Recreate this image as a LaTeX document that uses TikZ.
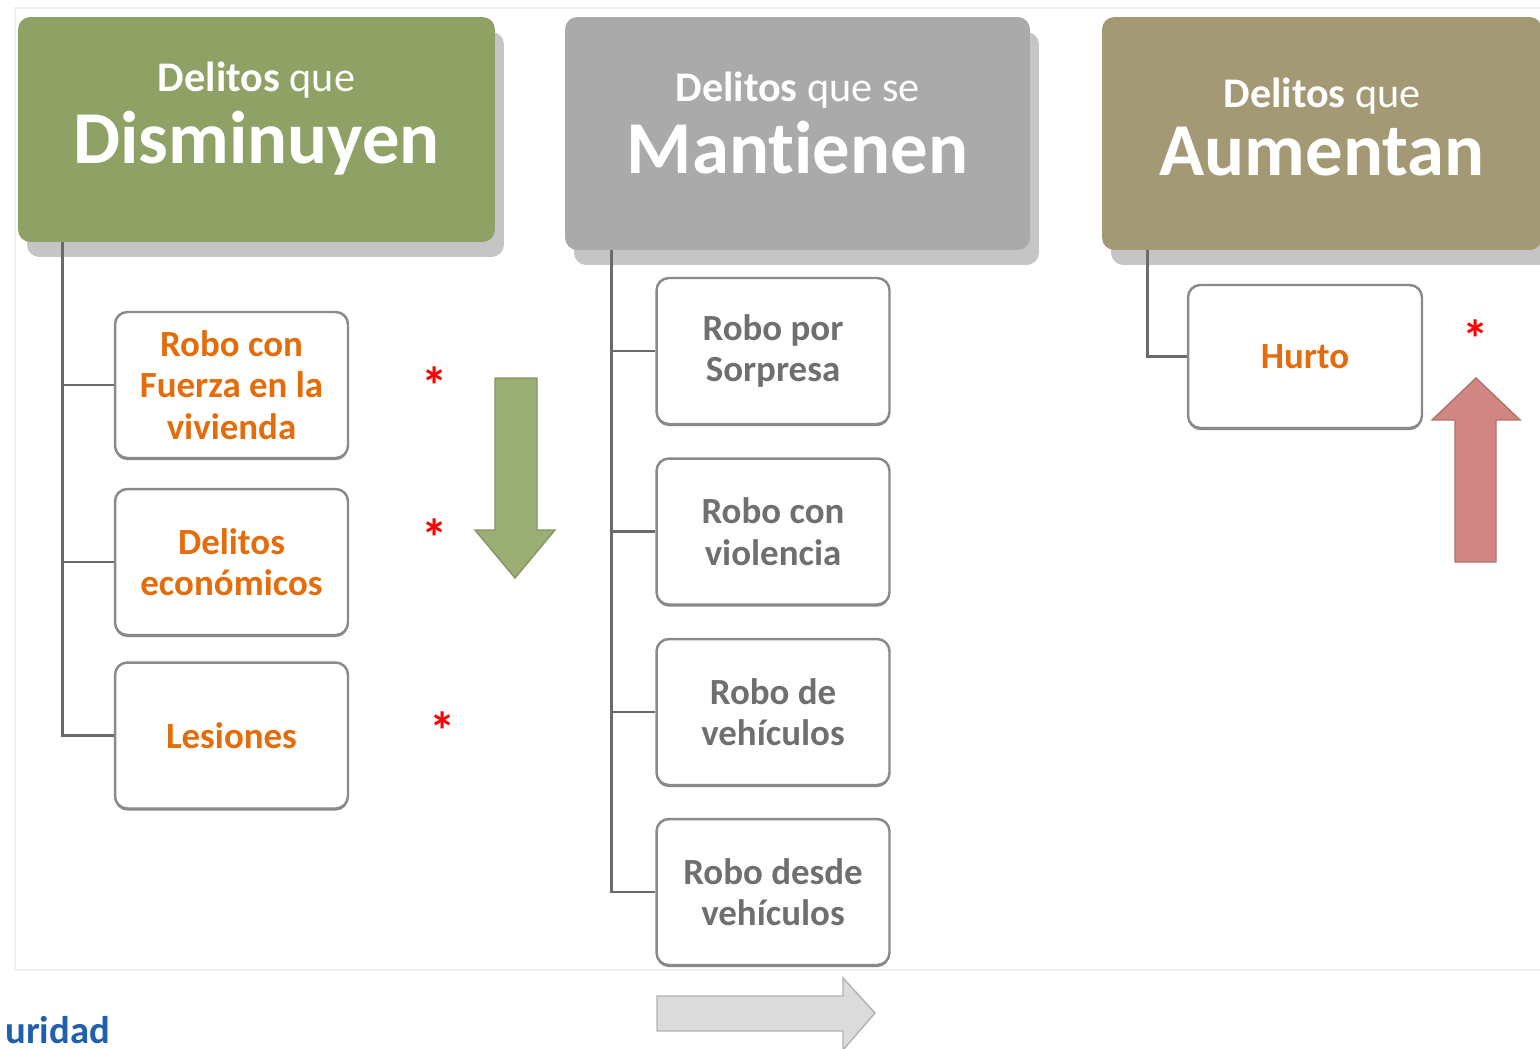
\documentclass[tikz,border=0pt]{standalone}
\usepackage{fontspec}
\setmainfont{Carlito}[Ligatures=NoCommon]
\usetikzlibrary{shadows}
\definecolor{verde}{HTML}{8FA164}
\definecolor{plomo}{HTML}{AAAAAA}
\definecolor{caqui}{HTML}{A39A75}
\definecolor{naranja}{HTML}{E46C0A}
\definecolor{grisT}{HTML}{6F6F6F}
\definecolor{borde}{HTML}{8A8A8A}
\definecolor{linea}{HTML}{6A6A6A}
\definecolor{flechaV}{HTML}{9BAE74}
\definecolor{flechaR}{HTML}{D08683}
\definecolor{azul}{HTML}{1F5FAD}
\begin{document}
\begin{tikzpicture}[x=0.02cm, y=-0.02cm,
  head/.style={rounded corners=7pt, text=white, align=center,
    drop shadow={shadow xshift=0.18cm, shadow yshift=-0.3cm, fill=gray!75, opacity=0.6}},
  caja/.style={draw=borde, line width=1.4pt, rounded corners=7pt, fill=white, align=center,
    minimum width=4.66cm, minimum height=2.92cm, font=\fontsize{21}{23.6}\selectfont\bfseries,
    drop shadow={shadow xshift=0pt, shadow yshift=-1.2pt, fill=linea, opacity=0.8}},
  rama/.style={draw=linea, line width=1.4pt},
  star/.style={text=red, font=\fontsize{30}{30}\selectfont\bfseries}]
\useasboundingbox (0,0) rectangle (1540,1048);
\draw[gray!12, line width=0.8pt] (15,8) rectangle (1560,970);

% cabeceras
\node[head, fill=verde, minimum width=9.54cm, minimum height=4.5cm, text depth=19pt] (dis) at (256.5,129.5)
  {{\fontsize{24}{28}\selectfont\textbf{Delitos} que}\\[6pt] \fontsize{42.5}{42}\selectfont\bfseries Disminuyen};
\node[head, fill=plomo, minimum width=9.3cm, minimum height=4.66cm, text depth=12.5pt] (man) at (797.5,133.5)
  {{\fontsize{24}{28}\selectfont\textbf{Delitos} que se}\\[6pt] \fontsize{42.5}{42}\selectfont\bfseries Mantienen};
\node[head, fill=caqui, minimum width=8.8cm, minimum height=4.66cm, text depth=8pt] (aum) at (1322,133.5)
  {{\fontsize{24}{28}\selectfont\textbf{Delitos} que}\\[6pt] \fontsize{42.5}{42}\selectfont\bfseries Aumentan};

% disminuyen
\node[caja, text=naranja] (rfv) at (231.5,385) {Robo con\\Fuerza en la\\vivienda};
\node[caja, text=naranja] (dec) at (231.5,562) {Delitos\\económicos};
\node[caja, text=naranja] (les) at (231.5,735.5) {Lesiones};
\draw[rama] ([xshift=0.9cm]dis.south west) |- (rfv.west);
\draw[rama] ([xshift=0.9cm]dis.south west) |- (dec.west);
\draw[rama] ([xshift=0.9cm]dis.south west) |- (les.west);

% se mantienen
\node[caja, text=grisT] (rps) at (773,351) {Robo por\\Sorpresa};
\node[caja, text=grisT] (rcv) at (773,531.5) {Robo con\\violencia};
\node[caja, text=grisT] (rdv) at (773,712) {Robo de\\vehículos};
\node[caja, text=grisT] (rdd) at (773,892) {Robo desde\\vehículos};
\draw[rama] ([xshift=0.94cm]man.south west) |- (rps.west);
\draw[rama] ([xshift=0.94cm]man.south west) |- (rcv.west);
\draw[rama] ([xshift=0.94cm]man.south west) |- (rdv.west);
\draw[rama] ([xshift=0.94cm]man.south west) |- (rdd.west);

% aumentan
\node[caja, text=naranja, minimum width=4.68cm, minimum height=2.86cm] (hur) at (1305,356.5) {Hurto};
\draw[rama] ([xshift=0.92cm]aum.south west) |- (hur.west);

% asteriscos
\node[star] (s1) at (435,386) {*};
\node[star] (s2) at (435,538) {*};
\node[star] (s3) at (443,731) {*};
\node[star] (s4) at (1476,339) {*};

% flechas
\filldraw[fill=flechaV, draw=flechaV!85!black, line width=0.8pt]
  (495,378) -- (537,378) -- (537,530) -- (555,530) -- (515,578) -- (475,530) -- (495,530) -- cycle;
\filldraw[fill=flechaR, draw=flechaR!85!black, line width=0.8pt]
  (1455,562) -- (1496,562) -- (1496,420) -- (1520,420) -- (1476,378) -- (1432,420) -- (1455,420) -- cycle;
\filldraw[fill=gray!28, draw=gray!60, line width=0.8pt]
  (657,996) -- (843,996) -- (843,978) -- (875,1013) -- (843,1050) -- (843,1031) -- (657,1031) -- cycle;

\node[anchor=base west, text=azul, font=\fontsize{22}{22}\selectfont\bfseries, inner sep=0pt] (seg) at (5,1043) {uridad};
\end{tikzpicture}
\end{document}
